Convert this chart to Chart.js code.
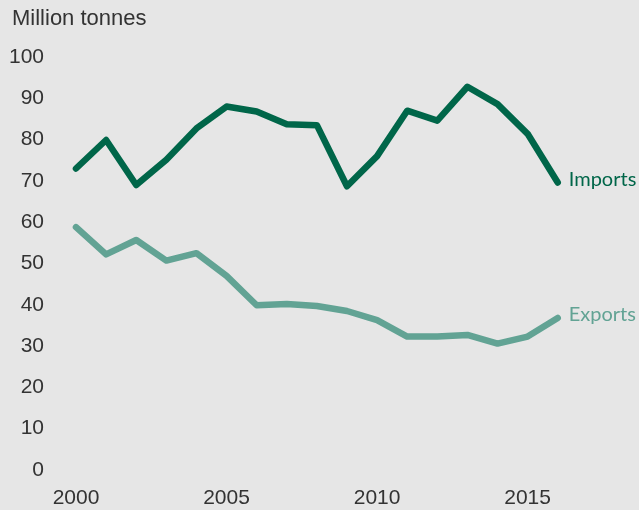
<!DOCTYPE html>
<html>
<head>
<meta charset="utf-8">
<script src="https://cdn.jsdelivr.net/npm/chart.js@4.4.1/dist/chart.umd.min.js"></script>
<style>
    html, body { margin: 0; padding: 0; background: #e6e6e6; }
    #wrap { width: 639px; height: 510px; position: relative; }
</style>
</head>
<body>
<div id="wrap"><canvas id="tradeChart" width="639" height="510"></canvas></div>
<script>
// Data (million tonnes)
const years = [2000, 2001, 2002, 2003, 2004, 2005, 2006, 2007, 2008, 2009, 2010, 2011, 2012, 2013, 2014, 2015, 2016];
const imports = [73.0, 79.9, 69.0, 75.1, 82.7, 88.0, 86.8, 83.7, 83.5, 68.7, 76.0, 87.0, 84.6, 92.8, 88.6, 81.4, 69.6];
const exports = [58.8, 52.2, 55.7, 50.7, 52.5, 47.0, 39.9, 40.2, 39.7, 38.5, 36.3, 32.3, 32.3, 32.7, 30.6, 32.3, 36.8];
const xTicks = [2000, 2005, 2010, 2015];
const yTicks = [0, 10, 20, 30, 40, 50, 60, 70, 80, 90, 100];

const importColour = '#006649';
const exportColour = '#62a394';
const textColour = '#333333';

const toPoints = values => years.map((year, i) => ({ x: year, y: values[i] }));

// Draws the unit label and the series names at the line ends
const labelsPlugin = {
    id: 'labels',
    afterDatasetsDraw(chart) {
        const ctx = chart.ctx;
        ctx.save();
        ctx.fillStyle = textColour;
        ctx.font = '22px "Liberation Sans", Arial, sans-serif';
        ctx.textAlign = 'left';
        ctx.textBaseline = 'middle';
        ctx.fillText('Million tonnes', 12, 19);

        ctx.font = '20px Lato, "Open Sans", sans-serif';
        chart.data.datasets.forEach((ds, i) => {
            const meta = chart.getDatasetMeta(i);
            const last = meta.data[meta.data.length - 1];
            ctx.fillStyle = ds.borderColor;
            ctx.fillText(ds.label, last.x + 11, last.y - 3);
        });
        ctx.restore();
    }
};

const ctx = document.getElementById('tradeChart').getContext('2d');
new Chart(ctx, {
    type: 'line',
    data: {
        datasets: [
            {
                label: 'Imports',
                data: toPoints(imports),
                borderColor: importColour,
                borderWidth: 6.5,
                pointRadius: 0,
                tension: 0,
                clip: false,
                borderCapStyle: 'round',
                borderJoinStyle: 'round'
            },
            {
                label: 'Exports',
                data: toPoints(exports),
                borderColor: exportColour,
                borderWidth: 6.5,
                pointRadius: 0,
                tension: 0,
                clip: false,
                borderCapStyle: 'round',
                borderJoinStyle: 'round'
            }
        ]
    },
    options: {
        responsive: false,
        animation: false,
        layout: { padding: { top: 57, right: 6, bottom: 0, left: 0 } },
        plugins: {
            legend: { display: false },
            tooltip: { enabled: false }
        },
        scales: {
            x: {
                type: 'linear',
                min: 2000,
                max: 2018.5,
                grid: { display: false, drawTicks: false },
                border: { display: false },
                afterFit: scale => {
                    scale.height = 40;
                    scale.paddingLeft = 0;
                    scale.paddingRight = 0;
                },
                afterBuildTicks: scale => { scale.ticks = xTicks.map(v => ({ value: v })); },
                ticks: {
                    padding: 16,
                    color: textColour,
                    font: { family: '"Liberation Sans", Arial, sans-serif', size: 21 },
                    callback: v => String(v)
                }
            },
            y: {
                min: 0,
                max: 100,
                grid: { display: false, drawTicks: false },
                border: { display: false },
                afterFit: scale => {
                    scale.width = 76;
                    scale.paddingTop = 0;
                    scale.paddingBottom = 0;
                },
                afterBuildTicks: scale => { scale.ticks = yTicks.map(v => ({ value: v })); },
                ticks: {
                    padding: 32,
                    color: textColour,
                    font: { family: '"Liberation Sans", Arial, sans-serif', size: 21 }
                }
            }
        }
    },
    plugins: [labelsPlugin]
});
</script>
</body>
</html>
